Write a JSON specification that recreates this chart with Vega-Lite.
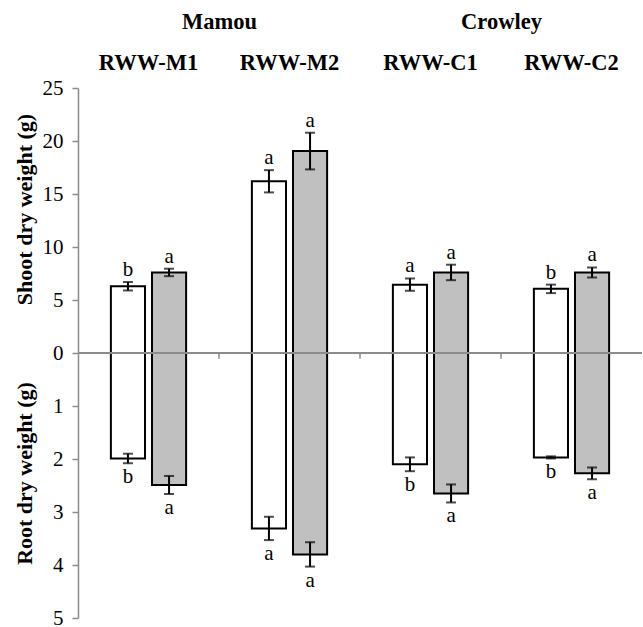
{
  "$schema": "https://vega.github.io/schema/vega-lite/v6.json",
  "padding": {"left": 12, "top": 10, "right": 0, "bottom": 0},
  "width": 564,
  "height": 530,
  "config": {"view": {"stroke": null}, "font": "'Liberation Serif', 'Times New Roman', serif", "axis": {"grid": false}},
  "datasets": {
    "weights": [
      {"genotype": "RWW-M1", "site": "Mamou", "treatment": "Control", "part": "Shoot", "mean": 6.3, "se": 0.4, "letter": "b"},
      {"genotype": "RWW-M1", "site": "Mamou", "treatment": "Treated", "part": "Shoot", "mean": 7.6, "se": 0.35, "letter": "a"},
      {"genotype": "RWW-M2", "site": "Mamou", "treatment": "Control", "part": "Shoot", "mean": 16.2, "se": 1.05, "letter": "a"},
      {"genotype": "RWW-M2", "site": "Mamou", "treatment": "Treated", "part": "Shoot", "mean": 19.05, "se": 1.73, "letter": "a"},
      {"genotype": "RWW-C1", "site": "Crowley", "treatment": "Control", "part": "Shoot", "mean": 6.45, "se": 0.58, "letter": "a"},
      {"genotype": "RWW-C1", "site": "Crowley", "treatment": "Treated", "part": "Shoot", "mean": 7.6, "se": 0.73, "letter": "a"},
      {"genotype": "RWW-C2", "site": "Crowley", "treatment": "Control", "part": "Shoot", "mean": 6.05, "se": 0.4, "letter": "b"},
      {"genotype": "RWW-C2", "site": "Crowley", "treatment": "Treated", "part": "Shoot", "mean": 7.6, "se": 0.47, "letter": "a"},
      {"genotype": "RWW-M1", "site": "Mamou", "treatment": "Control", "part": "Root", "mean": 1.99, "se": 0.09, "letter": "b"},
      {"genotype": "RWW-M1", "site": "Mamou", "treatment": "Treated", "part": "Root", "mean": 2.49, "se": 0.17, "letter": "a"},
      {"genotype": "RWW-M2", "site": "Mamou", "treatment": "Control", "part": "Root", "mean": 3.31, "se": 0.22, "letter": "a"},
      {"genotype": "RWW-M2", "site": "Mamou", "treatment": "Treated", "part": "Root", "mean": 3.8, "se": 0.23, "letter": "a"},
      {"genotype": "RWW-C1", "site": "Crowley", "treatment": "Control", "part": "Root", "mean": 2.1, "se": 0.13, "letter": "b"},
      {"genotype": "RWW-C1", "site": "Crowley", "treatment": "Treated", "part": "Root", "mean": 2.65, "se": 0.17, "letter": "a"},
      {"genotype": "RWW-C2", "site": "Crowley", "treatment": "Control", "part": "Root", "mean": 1.97, "se": 0.02, "letter": "b"},
      {"genotype": "RWW-C2", "site": "Crowley", "treatment": "Treated", "part": "Root", "mean": 2.27, "se": 0.11, "letter": "a"}
    ],
    "sites": [{"site": "Mamou"}, {"site": "Crowley"}],
    "separators": [{"genotype": "RWW-M2"}, {"genotype": "RWW-C1"}, {"genotype": "RWW-C2"}],
    "zero": [{"level": 0}]
  },
  "resolve": {"scale": {"x": "independent"}, "axis": {"x": "independent", "y": "independent"}},
  "layer": [
    {
      "data": {"name": "weights"},
      "transform": [
        {"calculate": "datum.part === 'Root' ? -5 * datum.mean : datum.mean", "as": "plot"},
        {"calculate": "datum.part === 'Root' ? 5 * datum.se : datum.se", "as": "err"},
        {"calculate": "datum.plot - datum.err", "as": "lo"},
        {"calculate": "datum.plot + datum.err", "as": "hi"}
      ],
      "layer": [
        {
          "mark": {"type": "bar", "stroke": "black", "strokeWidth": 2},
          "encoding": {
            "x": {"field": "genotype", "type": "nominal", "sort": ["RWW-M1", "RWW-M2", "RWW-C1", "RWW-C2"],
              "scale": {"paddingInner": 0, "paddingOuter": 0},
              "axis": {"orient": "top", "title": null, "ticks": false, "domain": false, "labelAngle": 0,
                "labelFont": "'Liberation Serif', 'Times New Roman', serif", "labelFontSize": 22.5, "labelFontWeight": "bold", "labelColor": "black", "labelPadding": 14}},
            "xOffset": {"field": "treatment", "type": "nominal", "sort": ["Control", "Treated"],
              "scale": {"paddingInner": 0.17, "paddingOuter": 0.8}},
            "y": {"field": "plot", "type": "quantitative",
              "scale": {"domain": [-25, 25], "nice": false},
              "axis": {"orient": "left", "values": [-25, -20, -15, -10, -5, 0, 5, 10, 15, 20, 25],
                "labelExpr": "datum.value >= 0 ? format(datum.value, 'd') : format(-datum.value / 5, 'd')",
                "labelOverlap": false, "labelFont": "'Liberation Serif', 'Times New Roman', serif", "labelFontSize": 21, "labelColor": "black", "labelPadding": 9,
                "tickSize": 6, "tickColor": "#8c8c8c", "tickWidth": 1.5, "domainColor": "#8c8c8c", "domainWidth": 1.5,
                "title": "Shoot dry weight (g)", "titleFont": "'Liberation Serif', 'Times New Roman', serif", "titleFontSize": 22, "titleFontWeight": "bold",
                "titleColor": "black", "titleX": -54, "titleY": 121, "titleAngle": 270, "titleBaseline": "middle", "titleAlign": "center"}},
            "fill": {"field": "treatment", "type": "nominal", "scale": {"domain": ["Control", "Treated"], "range": ["#ffffff", "#c0c0c0"]}, "legend": null}
          }
        },
        {
          "data": {"name": "zero"},
          "mark": {"type": "rule", "color": "#8c8c8c", "strokeWidth": 2},
          "encoding": {"y": {"field": "level", "type": "quantitative"}}
        },
        {
          "data": {"name": "separators"},
          "mark": {"type": "rule", "color": "#8c8c8c", "strokeWidth": 1.5},
          "encoding": {
            "x": {"field": "genotype", "type": "nominal", "bandPosition": 0, "sort": ["RWW-M1", "RWW-M2", "RWW-C1", "RWW-C2"]},
            "y": {"datum": 0, "type": "quantitative"},
            "y2": {"datum": -0.55}
          }
        },
        {
          "mark": {"type": "rule", "color": "black", "strokeWidth": 2},
          "encoding": {
            "x": {"field": "genotype", "type": "nominal", "sort": ["RWW-M1", "RWW-M2", "RWW-C1", "RWW-C2"]},
            "xOffset": {"field": "treatment", "type": "nominal", "sort": ["Control", "Treated"]},
            "y": {"field": "lo", "type": "quantitative"},
            "y2": {"field": "hi"}
          }
        },
        {
          "mark": {"type": "tick", "color": "black", "size": 10, "thickness": 2},
          "encoding": {
            "x": {"field": "genotype", "type": "nominal", "sort": ["RWW-M1", "RWW-M2", "RWW-C1", "RWW-C2"]},
            "xOffset": {"field": "treatment", "type": "nominal", "sort": ["Control", "Treated"]},
            "y": {"field": "lo", "type": "quantitative"}
          }
        },
        {
          "mark": {"type": "tick", "color": "black", "size": 10, "thickness": 2},
          "encoding": {
            "x": {"field": "genotype", "type": "nominal", "sort": ["RWW-M1", "RWW-M2", "RWW-C1", "RWW-C2"]},
            "xOffset": {"field": "treatment", "type": "nominal", "sort": ["Control", "Treated"]},
            "y": {"field": "hi", "type": "quantitative"}
          }
        },
        {
          "transform": [{"filter": "datum.part === 'Shoot'"}],
          "mark": {"type": "text", "font": "'Liberation Serif', 'Times New Roman', serif", "fontSize": 21, "color": "black", "baseline": "alphabetic", "dy": -6},
          "encoding": {
            "x": {"field": "genotype", "type": "nominal", "sort": ["RWW-M1", "RWW-M2", "RWW-C1", "RWW-C2"]},
            "xOffset": {"field": "treatment", "type": "nominal", "sort": ["Control", "Treated"]},
            "y": {"field": "hi", "type": "quantitative"},
            "text": {"field": "letter"}
          }
        },
        {
          "transform": [{"filter": "datum.part === 'Root'"}],
          "mark": {"type": "text", "font": "'Liberation Serif', 'Times New Roman', serif", "fontSize": 21, "color": "black", "baseline": "top", "dy": 3},
          "encoding": {
            "x": {"field": "genotype", "type": "nominal", "sort": ["RWW-M1", "RWW-M2", "RWW-C1", "RWW-C2"]},
            "xOffset": {"field": "treatment", "type": "nominal", "sort": ["Control", "Treated"]},
            "y": {"field": "lo", "type": "quantitative"},
            "text": {"field": "letter"}
          }
        }
      ]
    },
    {
      "data": {"name": "sites"},
      "mark": {"type": "text", "text": ""},
      "encoding": {
        "x": {"field": "site", "type": "nominal", "sort": ["Mamou", "Crowley"],
          "scale": {"paddingInner": 0, "paddingOuter": 0},
          "axis": {"orient": "top", "offset": 41, "title": null, "ticks": false, "domain": false, "labelAngle": 0,
            "labelFont": "'Liberation Serif', 'Times New Roman', serif", "labelFontSize": 22.5, "labelFontWeight": "bold", "labelColor": "black", "labelPadding": 14}},
        "y": {"datum": 0, "type": "quantitative",
          "axis": {"orient": "left", "labels": false, "ticks": false, "domain": false, "grid": false,
            "title": "Root dry weight (g)", "titleFont": "'Liberation Serif', 'Times New Roman', serif", "titleFontSize": 22, "titleFontWeight": "bold",
            "titleColor": "black", "titleX": -54, "titleY": 385, "titleAngle": 270, "titleBaseline": "middle", "titleAlign": "center"}}
      }
    }
  ]
}
